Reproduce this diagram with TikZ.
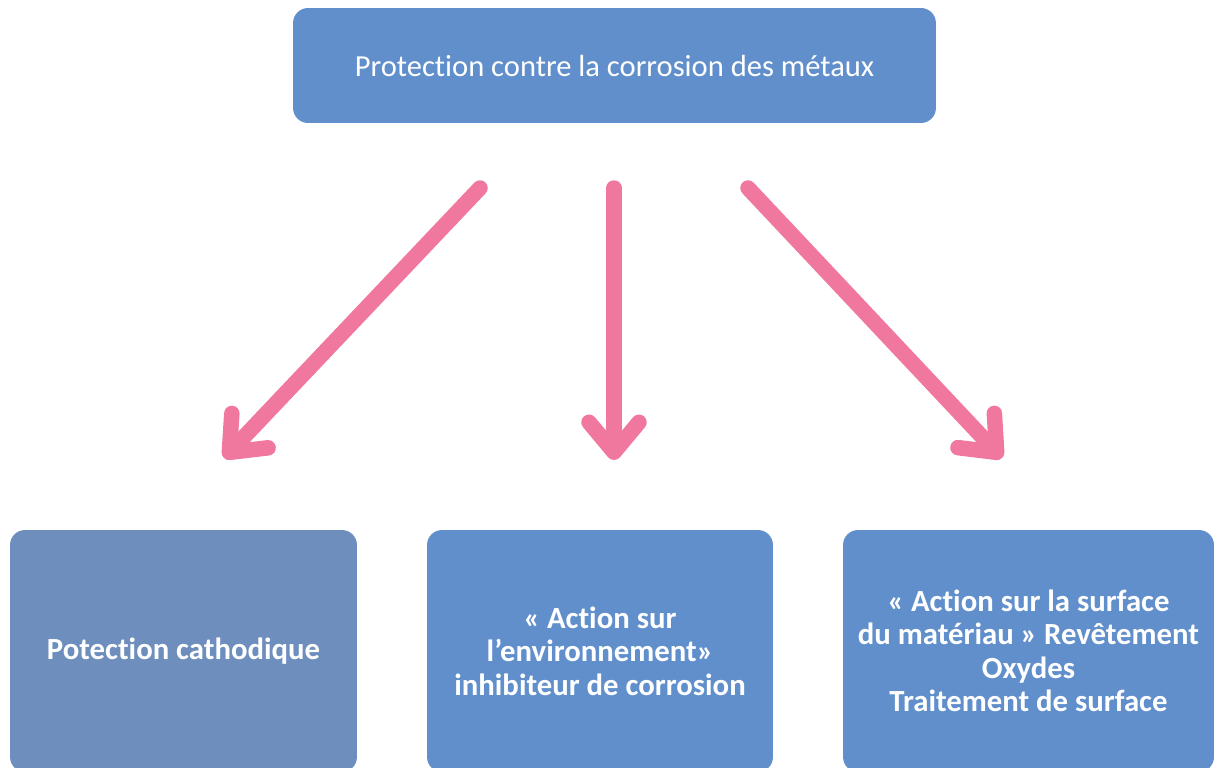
\documentclass[tikz,border=0pt]{standalone}
\usepackage{fontspec}
\setmainfont{Carlito}[Ligatures=NoCommon]
\usetikzlibrary{arrows.meta,positioning}
\definecolor{boxblue}{RGB}{96,143,204}
\definecolor{greyblue}{RGB}{110,143,190}
\definecolor{arrowpink}{RGB}{240,120,158}

\begin{document}
\begin{tikzpicture}[x=0.02cm, y=-0.02cm,
  box/.style={rounded corners=0.3cm, fill=boxblue, text=white, align=center, inner sep=0pt,
    font=\fontsize{17.5}{19}\selectfont\bfseries},
  pinkarrow/.style={line width=0.31cm, arrowpink, line cap=round,
    -{Straight Barb[length=0.6cm, width=1cm, round]}}]
  \useasboundingbox (0,0) rectangle (1216,767);
  \clip (0,0) rectangle (1216,767);
  % top box
  \node[box, minimum width=12.86cm, minimum height=2.3cm, font=\fontsize{17.4}{19}\selectfont]
    (root) at (614.5,65.5) {Protection contre la corrosion des m\'etaux};
  % bottom boxes
  \node[box, fill=greyblue, minimum width=6.94cm, minimum height=4.84cm]
    (cathode) at (183.5,651) {Potection cathodique};
  \node[box, minimum width=6.92cm, minimum height=4.84cm]
    (milieu) at (600,651) {«~Action sur\\l’environnement»\\inhibiteur de corrosion};
  \node[box, minimum width=7.42cm, minimum height=4.84cm]
    (surface) at (1028.5,651) {«~Action sur la surface\\du mat\'eriau » Rev\^etement\\Oxydes\\Traitement de surface};
  % arrows
  \coordinate (a1) at (480,188);
  \coordinate (b1) at (224,458);
  \coordinate (a2) at (614,188);
  \coordinate (b2) at (614,460);
  \coordinate (a3) at (748,188);
  \coordinate (b3) at (1002,458);
  \draw[pinkarrow] (a1) -- (b1);
  \draw[pinkarrow] (a2) -- (b2);
  \draw[pinkarrow] (a3) -- (b3);
\end{tikzpicture}
\end{document}
